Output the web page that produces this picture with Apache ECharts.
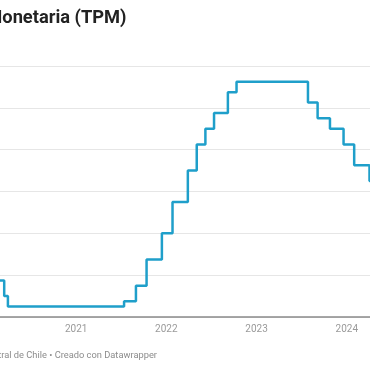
<!DOCTYPE html>
<html>
<head>
<meta charset="utf-8">
<script src="https://cdn.jsdelivr.net/npm/echarts@6/dist/echarts.min.js"></script>
<style>
html,body{margin:0;padding:0;background:#fff;overflow:hidden;}
#chart{width:370px;height:370px;}
</style>
</head>
<body>
<div id="chart"></div>
<script>
// Tasa de Política Monetaria (TPM), Banco Central de Chile — change dates and new rate (%)
const changeDates = [
  '2019-10-24','2020-03-16','2020-03-31','2021-07-14','2021-08-31','2021-10-13',
  '2021-12-14','2022-01-26','2022-03-29','2022-05-04','2022-06-08','2022-07-13',
  '2022-09-07','2022-10-12','2023-07-28','2023-09-05','2023-10-25','2023-12-19',
  '2024-01-31','2024-04-02','2024-05-23'
];
const rateValues = [
  1.75, 1.0, 0.5, 0.75, 1.5, 2.75,
  4.0, 5.5, 7.0, 8.25, 9.0, 9.75,
  10.75, 11.25, 10.25, 9.5, 9.0, 8.25,
  7.25, 6.5, 6.0
];
const yearLabels = ['2021','2022','2023','2024'];
const yTicks = [0, 2, 4, 6, 8, 10, 12];

const titleText = 'Tasa de Política Monetaria (TPM)';
const footerText = 'Fuente: Banco Central de Chile • Creado con Datawrapper';

const chart = echarts.init(document.getElementById('chart'), null, {renderer: 'canvas'});
const FONT = 'Roboto, "Noto Sans", sans-serif';

chart.setOption({
  animation: false,
  grid: {left: 0, right: 0, top: 66, bottom: 53, containLabel: false},
  xAxis: {
    type: 'time',
    min: '2020-02-28',
    max: '2024-04-04',
    minInterval: 365 * 24 * 3600 * 1000,
    axisLine: {show: true, lineStyle: {color: '#8a8a8a', width: 1.5}},
    axisTick: {show: false},
    splitLine: {show: false},
    axisLabel: {
      showMinLabel: false,
      showMaxLabel: false,
      color: '#9a9a9a',
      fontFamily: FONT,
      fontSize: 10,
      margin: 7,
      formatter: function (v) {
        const y = String(new Date(v).getFullYear());
        return yearLabels.indexOf(y) >= 0 ? y : '';
      }
    }
  },
  yAxis: {
    type: 'value',
    min: yTicks[0],
    max: yTicks[yTicks.length - 1],
    interval: 2,
    axisLine: {show: false},
    axisTick: {show: false},
    axisLabel: {show: false},
    splitLine: {show: true, lineStyle: {color: '#e6e6e6', width: 1}}
  },
  series: [{
    type: 'line',
    step: 'end',
    showSymbol: false,
    symbol: 'none',
    clip: true,
    lineStyle: {color: '#1f9fca', width: 2.5},
    data: changeDates.map((d, i) => [d, rateValues[i]])
  }],
  graphic: [
    {
      type: 'text', right: 243.5, top: 9,
      style: {text: titleText, fill: '#222', font: 'bold 18.3px ' + FONT, textAlign: 'right'}
    },
    {
      type: 'text', right: 213, top: 351,
      style: {text: footerText, fill: '#8c8c8c', font: '9.3px ' + FONT}
    }
  ]
});
</script>
</body>
</html>
